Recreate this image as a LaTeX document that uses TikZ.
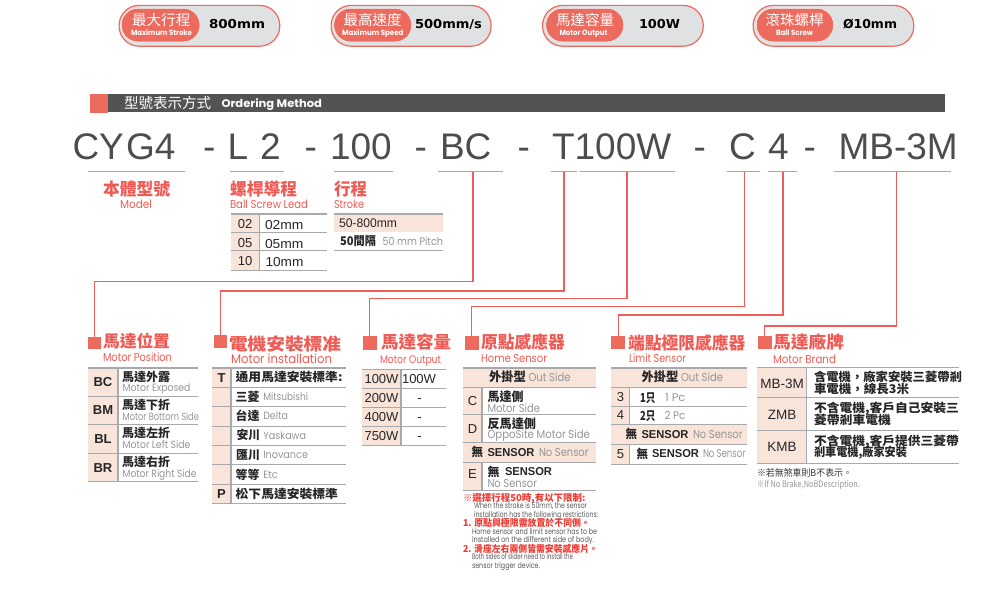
\documentclass[tikz,border=0pt]{standalone}
\usepackage{fontspec}
\usepackage{graphicx}
\setmainfont{Liberation Sans}
\newfontfamily\cjkf{Noto Sans CJK TC}
\newfontfamily\enf{Poppins}
\newfontfamily\djvf{DejaVu Sans}
\definecolor{brandred}{HTML}{EC6A5E}
\definecolor{linered}{HTML}{EF5F5A}
\definecolor{ulred}{HTML}{F28880}
\definecolor{headred}{HTML}{EF5B54}
\definecolor{peach}{HTML}{F9E4D9}
\definecolor{ruleg}{HTML}{A7A9AC}
\definecolor{bardark}{HTML}{525355}
\definecolor{pillg}{HTML}{E0E1E3}
\definecolor{modelg}{HTML}{4D4D4F}
\definecolor{greyt}{HTML}{939598}
\definecolor{noteg}{HTML}{58595B}
\definecolor{notered}{HTML}{EE3B33}
\newcounter{lab}
\newcommand\Zb{\cjkf\bfseries}
\newcommand\Zr{\cjkf}
\newcommand\fz[1]{\fontsize{\the\dimexpr#1pt*3/4\relax}{\the\dimexpr#1pt\relax}\selectfont}
% fitted label: x1, x2, y centre, size, font+colour, text
\newcommand\lw[6]{\stepcounter{lab}\node[lab,name=t\arabic{lab}] at (#1,{#3+0.36*#4}) {\resizebox{\dimexpr(#2pt-#1pt)*3/4\relax}{\height}{\fz{#4}#5 #6}};}
% centred label: x centre, y centre, size, font+colour, text
\newcommand\lc[5]{\stepcounter{lab}\node[labc,name=t\arabic{lab}] at (#1,{#2+0.36*#3}) {\fz{#3}#4 #5};}
\newcommand\tit[2]{\stepcounter{lab}\node[lab,name=t\arabic{lab}] at (#1,160) {\fz{37}\color{modelg}#2};}
\newcommand\Hd{\Zb\color{headred}}
\newcommand\Hs{\enf\color{headred}}
\newcommand\Bk{\Zb\color{black!85}}
\newcommand\Gy{\enf\color{greyt}}
\newcommand\Ar{\rmfamily\color{black!85}}
\newcommand\Arb{\rmfamily\bfseries\color{black!85}}
\newcommand\Nr{\Zb\color{notered}}
\newcommand\Ng{\enf\color{noteg}}
\tikzset{
 lab/.style={anchor=base west,inner sep=0pt,outer sep=0pt},
 labc/.style={anchor=base,inner sep=0pt,outer sep=0pt},
 pill/.style={draw=brandred,line width=0.9pt,fill=pillg,rounded corners=15pt,inner sep=0pt,anchor=north west},
 pilli/.style={draw=white!70!pillg,line width=0.4pt,fill=brandred,rounded corners=12.4pt,inner sep=0pt,anchor=north west},
 sq/.style={fill=brandred,inner sep=0pt,anchor=north west},
 ul/.style={draw=ulred,line width=0.8pt},
 conn/.style={draw=linered,line width=0.85pt},
 trule/.style={draw=ruleg,line width=0.75pt},
 ttop/.style={draw=ruleg,line width=1.2pt},
 tcol/.style={draw=ruleg,line width=0.8pt},
 cell/.style={fill=peach},
}
\begin{document}
\begin{tikzpicture}[x=0.75pt,y=-0.75pt]
\useasboundingbox (0,0) rectangle (1000,599);
% ===== pills =====
\node[pill,minimum width=120.5pt,minimum height=30.6pt] (p1) at (118.5,4.8) {};
\node[pilli,minimum width=59pt,minimum height=25.2pt] (p1i) at (121,8) {};
\node[pill,minimum width=120pt,minimum height=30.6pt] (p2) at (330.5,4.8) {};
\node[pilli,minimum width=58.5pt,minimum height=25.2pt] (p2i) at (333.5,8) {};
\node[pill,minimum width=120.5pt,minimum height=30.6pt] (p3) at (542,4.8) {};
\node[pilli,minimum width=58.5pt,minimum height=25.2pt] (p3i) at (545.5,8) {};
\node[pill,minimum width=120.5pt,minimum height=30.6pt] (p4) at (752.5,4.8) {};
\node[pilli,minimum width=58pt,minimum height=25.2pt] (p4i) at (756,8) {};
\newcommand\Wh{\Zr\color{white}}
\newcommand\Wb{\enf\bfseries\color{white}}
\newcommand\Va{\djvf\bfseries\color{black}}
\lw{132}{190.5}{20.5}{14.5}{\Wh}{最大行程}
\lw{131}{192}{33.3}{7.5}{\Wb}{Maximum Stroke}
\lw{209}{265}{24.5}{12.3}{\Va}{800mm}
\lw{343.5}{401.5}{20.5}{14.5}{\Wh}{最高速度}
\lw{342}{403.5}{33.3}{7.5}{\Wb}{Maximum Speed}
\lw{415}{482}{24.5}{12.3}{\Va}{500mm/s}
\lw{556}{614}{20.5}{14.5}{\Wh}{馬達容量}
\lw{559.5}{607.5}{33.3}{7.5}{\Wb}{Motor Output}
\lw{639}{680}{24.5}{12.3}{\Va}{100W}
\lw{765.5}{823.5}{20.5}{14.5}{\Wh}{滾珠螺桿}
\lw{776}{813}{33.3}{7.5}{\Wb}{Ball Screw}
\lw{843}{897}{24.5}{12.3}{\Va}{Ø10mm}
% ===== header bar =====
\fill[brandred] (90,94) rectangle (108,113);
\fill[bardark] (108,94) rectangle (945,112.5);
\lw{124}{211}{103.5}{14.5}{\Zr\color{white}}{型號表示方式}
\lw{221.5}{322}{103.5}{11}{\enf\bfseries\color{white}}{Ordering Method}
% ===== model string =====
\tit{72.5}{CY}\tit{126}{G4}\tit{203}{-}\tit{227.5}{L}\tit{260}{2}\tit{304.5}{-}\tit{330}{100}\tit{414.5}{-}\tit{440}{BC}
\tit{517.5}{-}\tit{552}{T100W}\tit{693.5}{-}\tit{729}{C}\tit{768}{4}\tit{803.5}{-}\tit{838.5}{MB-3M}
% underlines
\coordinate (u1a) at (87.5,171.8); \coordinate (u1b) at (185,171.8);
\coordinate (u2a) at (230,171.8); \coordinate (u2b) at (283.5,171.8);
\coordinate (u3a) at (334,171.8); \coordinate (u3b) at (392.5,171.8);
\coordinate (u4a) at (438,171.8); \coordinate (u4b) at (503,171.8);
\coordinate (u5a) at (551,171.8); \coordinate (u5b) at (577,171.8);
\coordinate (u6a) at (579.5,171.8); \coordinate (u6b) at (675,171.8);
\coordinate (u7a) at (726.5,171.8); \coordinate (u7b) at (760,171.8);
\coordinate (u8a) at (767.5,171.8); \coordinate (u8b) at (797,171.8);
\coordinate (u9a) at (834,171.8); \coordinate (u9b) at (951,171.8);
\foreach \n in {1,...,9}{\draw[ul] (u\n a) -- (u\n b);}
% section squares
\node[sq,minimum width=9.4pt,minimum height=9.4pt] (s1) at (88,336.5) {};
\node[sq,minimum width=10.2pt,minimum height=10.2pt] (s2) at (213.5,334.5) {};
\node[sq,minimum width=10.5pt,minimum height=10pt] (s3) at (362.5,336) {};
\node[sq,minimum width=10.5pt,minimum height=10pt] (s4) at (464.5,336) {};
\node[sq,minimum width=10.5pt,minimum height=10pt] (s5) at (611,335.5) {};
\node[sq,minimum width=10.5pt,minimum height=10pt] (s6) at (757.5,335.5) {};
% connectors
\coordinate (c1) at (473,171.8); \coordinate (b1) at (473,281.5);
\coordinate (c2) at (564,171.8); \coordinate (b2) at (564,291);
\coordinate (c3) at (627,171.8); \coordinate (b3) at (627,298.3);
\coordinate (c4) at (744.3,171.8); \coordinate (b4) at (744.3,306.8);
\coordinate (c5) at (783,171.8); \coordinate (b5) at (783,315);
\coordinate (c6) at (896.3,171.8); \coordinate (b6) at (896.3,326);
\draw[conn] (c1) -- (b1) -| (s1.north);
\draw[conn] (c2) -- (b2) -| (s2.north);
\draw[conn] (c3) -- (b3) -| (s3.north);
\draw[conn] (c4) -- (b4) -| (s4.north);
\draw[conn] (c5) -- (b5) -| (s5.north);
\draw[conn] (c6) -- (b6) -| (s6.north);
% ===== upper headings =====
\lw{103}{170}{189}{17}{\Hd}{本體型號}
\lw{120}{152}{204.5}{11.5}{\Hs}{Model}
\lw{230}{297}{189}{17}{\Hd}{螺桿導程}
\lw{230}{308}{204}{11.5}{\Hs}{Ball Screw Lead}
\lw{334}{367}{189}{17}{\Hd}{行程}
\lw{334}{364}{204}{11.5}{\Hs}{Stroke}
% lead table
\fill[cell] (230.7,214) rectangle (259,270);
\draw[tcol] (259.5,214) -- (259.5,270);
\draw[ttop] (230.7,213.8) -- (327,213.8);
\foreach \y in {232.5,251,270}{\draw[trule] (230.7,\y) -- (327,\y);}
\lc{245}{223.5}{13}{\Ar}{02}\lc{245}{242.5}{13}{\Ar}{05}\lc{245}{261}{13}{\Ar}{10}
\lw{265}{303.5}{224.5}{13}{\Ar}{02mm}
\lw{265}{303.5}{243.5}{13}{\Ar}{05mm}
\lw{265.5}{303.5}{262}{13}{\Ar}{10mm}
% stroke table
\fill[cell] (334,214) rectangle (443,232.5);
\draw[ttop] (334,213.8) -- (443,213.8);
\draw[trule] (334,251) -- (443,251);
\lw{339}{397}{223.5}{12.5}{\Ar}{50-800mm}
\lw{340}{376}{241.5}{12}{\Bk}{50間隔}
\lw{382.5}{443}{241.5}{11}{\Gy}{50 mm Pitch}
% ===== Motor Position =====
\lw{103}{170}{342}{16.5}{\Hd}{馬達位置}
\lw{103}{172}{357}{11.5}{\Hs}{Motor Position}
\fill[cell] (88,368) rectangle (117.5,481.7);
\draw[tcol] (118,368) -- (118,481.7);
\draw[ttop] (88,367.7) -- (197.5,367.7);
\foreach \y in {396.3,424.3,453.3,481.7}{\draw[trule] (88,\y) -- (197.5,\y);}
\lc{103}{382}{13}{\Arb}{BC}\lc{103}{410}{13}{\Arb}{BM}\lc{103}{439}{13}{\Arb}{BL}\lc{103}{467.5}{13}{\Arb}{BR}
\lw{122}{170}{377.5}{12}{\Bk}{馬達外露}
\lw{122.7}{190.5}{388}{10.5}{\Gy}{Motor Exposed}
\lw{122}{170}{405.5}{12}{\Bk}{馬達下折}
\lw{122.7}{199}{416.7}{10.5}{\Gy}{Motor Bottom Side}
\lw{122}{170}{433}{12}{\Bk}{馬達左折}
\lw{122.7}{190.5}{445}{10.5}{\Gy}{Motor Left Side}
\lw{122}{170}{462}{12}{\Bk}{馬達右折}
\lw{122.7}{196.5}{474}{10.5}{\Gy}{Motor Right Side}
% ===== Motor installation =====
\lw{229}{341}{344}{17}{\Hd}{電機安裝標准}
\lw{231}{332}{359}{12.5}{\Hs}{Motor installation}
\fill[cell] (212.3,368) rectangle (230.7,503.3);
\draw[tcol] (231,368) -- (231,503.3);
\draw[ttop] (212.3,367.7) -- (346,367.7);
\foreach \y in {387,406.7,426,445.3,464.7,484.3,503.3}{\draw[trule] (212.3,\y) -- (346,\y);}
\lc{221.5}{377.5}{13}{\Arb}{T}\lc{221.5}{494}{13}{\Arb}{P}
\lw{235.7}{342.5}{377.5}{12}{\Bk}{通用馬達安裝標準:}
\lw{235.7}{259.5}{397}{12}{\Bk}{三菱}
\lw{263.3}{308}{397}{10.5}{\Gy}{Mitsubishi}
\lw{235.7}{259.5}{416}{12}{\Bk}{台達}
\lw{263.3}{288}{416}{10.5}{\Gy}{Delta}
\lw{236.5}{260}{435.5}{12}{\Bk}{安川}
\lw{263.3}{306}{435.5}{10.5}{\Gy}{Yaskawa}
\lw{236}{260}{455}{12}{\Bk}{匯川}
\lw{263.3}{308}{455}{10.5}{\Gy}{Inovance}
\lw{235.7}{259.5}{475}{12}{\Bk}{等等}
\lw{263.3}{278}{475}{10.5}{\Gy}{Etc}
\lw{235.7}{338}{493.7}{12}{\Bk}{松下馬達安裝標準}
% ===== Motor Output =====
\lw{381}{451}{342.7}{17}{\Hd}{馬達容量}
\lw{380}{441}{360}{11}{\Hs}{Motor Output}
\fill[cell] (362.3,369.5) rectangle (400.5,445.3);
\draw[tcol] (401,369.5) -- (401,445.3);
\draw[ttop] (362.3,369.3) -- (446,369.3);
\foreach \y in {388,407.3,426.3,445.3}{\draw[trule] (362.3,\y) -- (446,\y);}
\lc{381.5}{379}{13}{\Ar}{100W}\lc{381.5}{398}{13}{\Ar}{200W}\lc{381.5}{416.5}{13}{\Ar}{400W}\lc{381.5}{435.5}{13}{\Ar}{750W}
\lc{419}{379}{13}{\Ar}{100W}\lc{419.5}{398}{13}{\Ar}{-}\lc{419.5}{416.5}{13}{\Ar}{-}\lc{419.5}{435.5}{13}{\Ar}{-}
% ===== Home Sensor =====
\lw{481}{565}{342}{17}{\Hd}{原點感應器}
\lw{481}{547}{358.5}{11.5}{\Hs}{Home Sensor}
\fill[cell] (463.3,368) rectangle (596,387.3);
\fill[cell] (463.3,387.3) rectangle (481.5,442.3);
\fill[cell] (463.3,442.3) rectangle (596,462);
\fill[cell] (463.3,462) rectangle (481.5,490.7);
\draw[tcol] (482,387.3) -- (482,442.3);
\draw[tcol] (482,462) -- (482,490.7);
\draw[ttop] (463.3,368) -- (596,368);
\foreach \y in {387.3,414.3,442.3,462,490.7}{\draw[trule] (463.3,\y) -- (596,\y);}
\lw{489}{526}{377}{12.5}{\Bk}{外掛型}
\lw{528.5}{570.5}{377}{11.5}{\Gy}{Out Side}
\lc{472.5}{401}{13}{\Ar}{C}\lc{472.5}{429}{13}{\Ar}{D}\lc{472.5}{474}{13}{\Ar}{E}
\lw{487.5}{523.5}{396.7}{12.5}{\Bk}{馬達側}
\lw{487.5}{540}{408.3}{11.5}{\Gy}{Motor Side}
\lw{487.5}{536}{423.7}{12.5}{\Bk}{反馬達側}
\lw{487.5}{590}{434.7}{11.5}{\Gy}{OppoSite Motor Side}
\lw{471.5}{483}{452.3}{12}{\Bk}{無}
\lw{487.5}{534.5}{452.3}{11.5}{\Arb}{SENSOR}
\lw{539}{588.5}{452.3}{11.5}{\Gy}{No Sensor}
\lw{487.5}{499.5}{471.7}{12}{\Bk}{無}
\lw{505}{552}{471.7}{11.5}{\Arb}{SENSOR}
\lw{487.5}{537}{483.3}{11.5}{\Gy}{No Sensor}
% notes
\lw{463}{585.5}{498.3}{9.5}{\Nr}{※選擇行程50時,有以下限制:}
\lw{474}{587}{506}{8}{\Ng}{When the stroke is 50mm, the sensor}
\lw{474}{598}{514.3}{8}{\Ng}{installation has the following restrictions:}
\lw{463}{590}{523.3}{9.5}{\Nr}{1. 原點與極限需放置於不同側。}
\lw{472}{597}{531.7}{8}{\Ng}{Home sensor and limit sensor has to be}
\lw{472}{594}{539.3}{8}{\Ng}{installed on the different side of body.}
\lw{463}{598}{549}{9.5}{\Nr}{2. 滑座左右兩側皆需安裝感應片。}
\lw{472}{573}{557}{8}{\Ng}{Both sides of slider need to install the}
\lw{472}{540}{565.7}{8}{\Ng}{sensor trigger device.}
% ===== Limit Sensor =====
\lw{628}{745.5}{343}{17}{\Hd}{端點極限感應器}
\lw{629}{686}{358.5}{11.5}{\Hs}{Limit Sensor}
\fill[cell] (611,368) rectangle (746.7,387.3);
\fill[cell] (611,387.3) rectangle (629,424.7);
\fill[cell] (611,424.7) rectangle (746.7,444.3);
\fill[cell] (611,444.3) rectangle (629,464);
\draw[tcol] (629.5,387.3) -- (629.5,424.7);
\draw[tcol] (629.5,444.3) -- (629.5,464);
\draw[ttop] (611,367.8) -- (746.7,367.8);
\foreach \y in {387.3,406.3,424.7,444.3,464}{\draw[trule] (611,\y) -- (746.7,\y);}
\lw{641.5}{678.5}{377}{12.5}{\Bk}{外掛型}
\lw{681}{723}{377}{11.5}{\Gy}{Out Side}
\lc{620.5}{397}{13}{\Ar}{3}\lc{620.5}{415}{13}{\Ar}{4}\lc{620.5}{454}{13}{\Ar}{5}
\lw{638}{655.5}{397.5}{12.5}{\Ar\Zb}{1只}
\lw{665}{685.5}{398}{11}{\Gy}{1 Pc}
\lw{638}{655.5}{415.5}{12.5}{\Ar\Zb}{2只}
\lw{664.5}{685.5}{416}{11}{\Gy}{2 Pc}
\lw{625.5}{637}{434.5}{12}{\Bk}{無}
\lw{641.5}{688.5}{434.5}{11.5}{\Arb}{SENSOR}
\lw{693}{742.5}{434.5}{11.5}{\Gy}{No Sensor}
\lw{636.5}{648}{453.7}{12}{\Bk}{無}
\lw{652}{699}{453.7}{11.5}{\Arb}{SENSOR}
\lw{703}{745.5}{453.7}{11.5}{\Gy}{No Sensor}
% ===== Motor Brand =====
\lw{773}{844}{342.7}{17}{\Hd}{馬達廠牌}
\lw{773}{836}{359.3}{11.5}{\Hs}{Motor Brand}
\fill[cell] (757.3,367.5) rectangle (806,463);
\draw[tcol] (806.5,367.5) -- (806.5,463);
\draw[ttop] (757.3,367.3) -- (959,367.3);
\foreach \y in {397.7,430.3,463}{\draw[trule] (757.3,\y) -- (959,\y);}
\lc{782}{384}{13.5}{\Ar}{MB-3M}\lc{782}{415}{13.5}{\Ar}{ZMB}\lc{782}{447}{13.5}{\Ar}{KMB}
\lw{814}{962}{377}{12}{\Bk}{含電機，廠家安裝三菱帶剎}
\lw{814}{909}{389.3}{12}{\Bk}{車電機，線長3米}
\lw{814}{959}{408.3}{12}{\Bk}{不含電機,客戶自己安裝三}
\lw{814}{891}{420}{12}{\Bk}{菱帶剎車電機}
\lw{814}{959}{441}{12}{\Bk}{不含電機,客戶提供三菱帶}
\lw{814}{907}{452.3}{12}{\Bk}{剎車電機,廠家安裝}
\lw{757}{852}{473.3}{9.5}{\Zr\color{black!80}}{※若無煞車則B不表示。}
\lw{757}{860}{484.3}{9}{\Zr\color{greyt}}{※If No Brake,NoBDescription.}
\end{tikzpicture}
\end{document}
